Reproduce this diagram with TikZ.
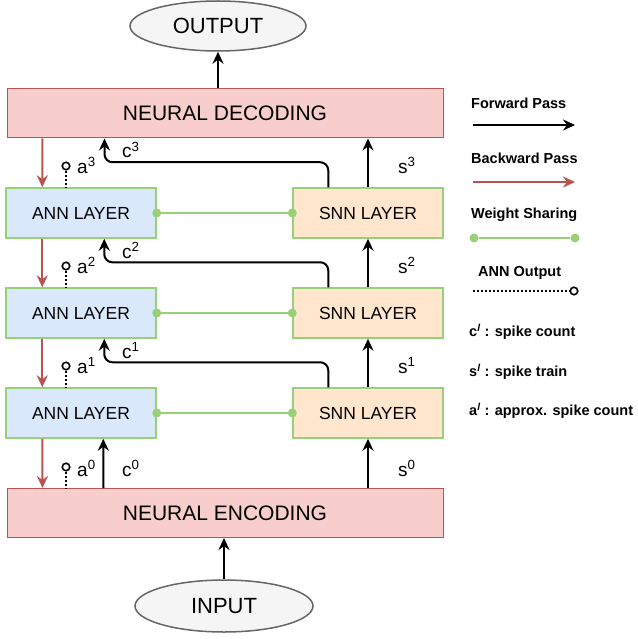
\documentclass[tikz,border=0pt]{standalone}
\usepackage{fontspec}
\setmainfont{Liberation Sans}
\usetikzlibrary{arrows.meta,calc,shapes.geometric}
\definecolor{redfill}{HTML}{F8CECC}
\definecolor{redline}{HTML}{B85450}
\definecolor{bluefill}{HTML}{DAE8FC}
\definecolor{orangefill}{HTML}{FFE6CC}
\definecolor{greenline}{HTML}{97D077}
\definecolor{greyfill}{HTML}{F5F5F5}
\definecolor{greyline}{HTML}{666666}
\begin{document}
\begin{tikzpicture}[x=1pt,y=-1pt,
  codebox/.style={draw=redline, fill=redfill, line width=1pt, minimum width=436pt, minimum height=49pt, inner sep=0pt, font=\fontsize{21}{25}\selectfont},
  annbox/.style={draw=greenline, fill=bluefill, line width=1.5pt, minimum width=150pt, minimum height=50pt, inner sep=0pt, font=\fontsize{17.5}{21}\selectfont},
  snnbox/.style={annbox, fill=orangefill},
  termnode/.style={ellipse, draw=greyline, fill=greyfill, line width=1.5pt, minimum width=176pt, minimum height=50pt, inner sep=0pt, font=\fontsize{22}{26}\selectfont},
  fwd/.style={line width=2pt, -{Stealth[length=12pt,width=11pt,inset=4pt]}},
  bwd/.style={line width=2pt, draw=redline, -{Stealth[length=12pt,width=11pt,inset=4pt,fill=redline]}},
  share/.style={line width=2pt, draw=greenline},
  shdot/.style={circle, fill=greenline, inner sep=0pt, minimum size=9pt},
  anndot/.style={line width=2pt, dash pattern=on 2pt off 2pt},
  aout/.style={circle, draw, line width=1.6pt, fill=white, inner sep=0pt, minimum size=7.5pt},
  lbl/.style={font=\fontsize{19}{22}\selectfont, anchor=base west, inner sep=0pt},
  leg/.style={font=\bfseries\fontsize{14.5}{17}\selectfont, anchor=west, inner sep=0pt}
]
\useasboundingbox (0,0) rectangle (637,639);

% main nodes
\node[termnode] (out) at (218,26) {OUTPUT};
\node[codebox] (dec) at (225,113.5) {NEURAL DECODING};
\node[annbox] (annA) at (81,213) {ANN LAYER};
\node[snnbox] (snnA) at (368,213) {SNN LAYER};
\node[annbox] (annB) at (81,313) {ANN LAYER};
\node[snnbox] (snnB) at (368,313) {SNN LAYER};
\node[annbox] (annC) at (81,413) {ANN LAYER};
\node[snnbox] (snnC) at (368,413) {SNN LAYER};
\node[codebox] (enc) at (225,513) {NEURAL ENCODING};
\node[termnode, minimum width=178pt, minimum height=52pt] (in) at (224,606) {INPUT};

% output / input arrows
\draw[fwd] (out.south |- dec.north) -- (out.south);
\draw[fwd] (in.north) -- (in.north |- enc.south);

% backward pass
\draw[bwd] ($(dec.south west)+(36,0)$) -- ($(annA.north west)+(37,0)$);
\draw[bwd] ($(annA.south west)+(37,0)$) -- ($(annB.north west)+(37,0)$);
\draw[bwd] ($(annB.south west)+(37,0)$) -- ($(annC.north west)+(37,0)$);
\draw[bwd] ($(annC.south west)+(37,0)$) -- ($(enc.north west)+(36,0)$);

% weight sharing
\foreach \r in {A,B,C}{
  \node[shdot] (sl\r) at (ann\r.east) {};
  \node[shdot] (sr\r) at (snn\r.west) {};
  \draw[share] (sl\r) -- (sr\r);
}

% ANN outputs
\node[aout] (oA) at (66,166) {};
\node[aout] (oB) at (66,266) {};
\node[aout] (oC) at (66,366) {};
\node[aout] (oD) at (66,467) {};
\draw[anndot] (oA.south) -- (oA.south |- annA.north);
\draw[anndot] (oB.south) -- (oB.south |- annB.north);
\draw[anndot] (oC.south) -- (oC.south |- annC.north);
\draw[anndot] (oD.south) -- (oD.south |- enc.north);
\node[lbl] (la3) at (77,173) {a\textsuperscript{3}};
\node[lbl] (la2) at (77,273) {a\textsuperscript{2}};
\node[lbl] (la1) at (77,373) {a\textsuperscript{1}};
\node[lbl] (la0) at (77,476) {a\textsuperscript{0}};

% spike counts
\draw[fwd, rounded corners=8pt] ($(snnA.north west)+(36,0)$) -- ++(0,-25) -| ($(dec.south west)+(98,0)$);
\draw[fwd, rounded corners=8pt] ($(snnB.north west)+(36,0)$) -- ++(0,-25) -| ($(annA.south west)+(99,0)$);
\draw[fwd, rounded corners=8pt] ($(snnC.north west)+(36,0)$) -- ++(0,-25) -| ($(annB.south west)+(99,0)$);
\draw[fwd] ($(enc.north west)+(97,0)$) -- ($(annC.south west)+(98,0)$);
\node[lbl] (lc3) at (122,158) {c\textsuperscript{3}};
\node[lbl] (lc2) at (122,258) {c\textsuperscript{2}};
\node[lbl] (lc1) at (122,358) {c\textsuperscript{1}};
\node[lbl] (lc0) at (122,476) {c\textsuperscript{0}};

% spike trains
\draw[fwd] (snnA.north) -- (snnA.north |- dec.south);
\draw[fwd] (snnB.north) -- (snnA.south);
\draw[fwd] (snnC.north) -- (snnB.south);
\draw[fwd] (snnC.south |- enc.north) -- (snnC.south);
\node[lbl] (ls3) at (398,173) {s\textsuperscript{3}};
\node[lbl] (ls2) at (398,273) {s\textsuperscript{2}};
\node[lbl] (ls1) at (398,373) {s\textsuperscript{1}};
\node[lbl] (ls0) at (398,476) {s\textsuperscript{0}};

% legend
\node[leg] (tf) at (471,103) {Forward Pass};
\coordinate (f1) at (473,125);
\coordinate (f2) at (575,125);
\draw[fwd] (f1) -- (f2);
\node[leg] (tb) at (471,158) {Backward Pass};
\coordinate (b1) at (473,182);
\coordinate (b2) at (575,182);
\draw[bwd] (b1) -- (b2);
\node[leg] (tw) at (471,215) {Weight Sharing};
\node[shdot] (w1) at (474,238) {};
\node[shdot] (w2) at (575,238) {};
\draw[share] (w1) -- (w2);
\node[leg] (ta) at (478,273) {ANN Output};
\coordinate (d1) at (473,291);
\node[aout] (d2) at (574,291) {};
\draw[anndot] (d1) -- (d2.west);
\node[leg] (tc) at (469,332) {c\textsuperscript{\itshape l} : spike count};
\node[leg] (ts) at (469,372) {s\textsuperscript{\itshape l} : spike train};
\node[leg] (tap) at (469,411) {a\textsuperscript{\itshape l} : approx. spike count};
\end{tikzpicture}
\end{document}
